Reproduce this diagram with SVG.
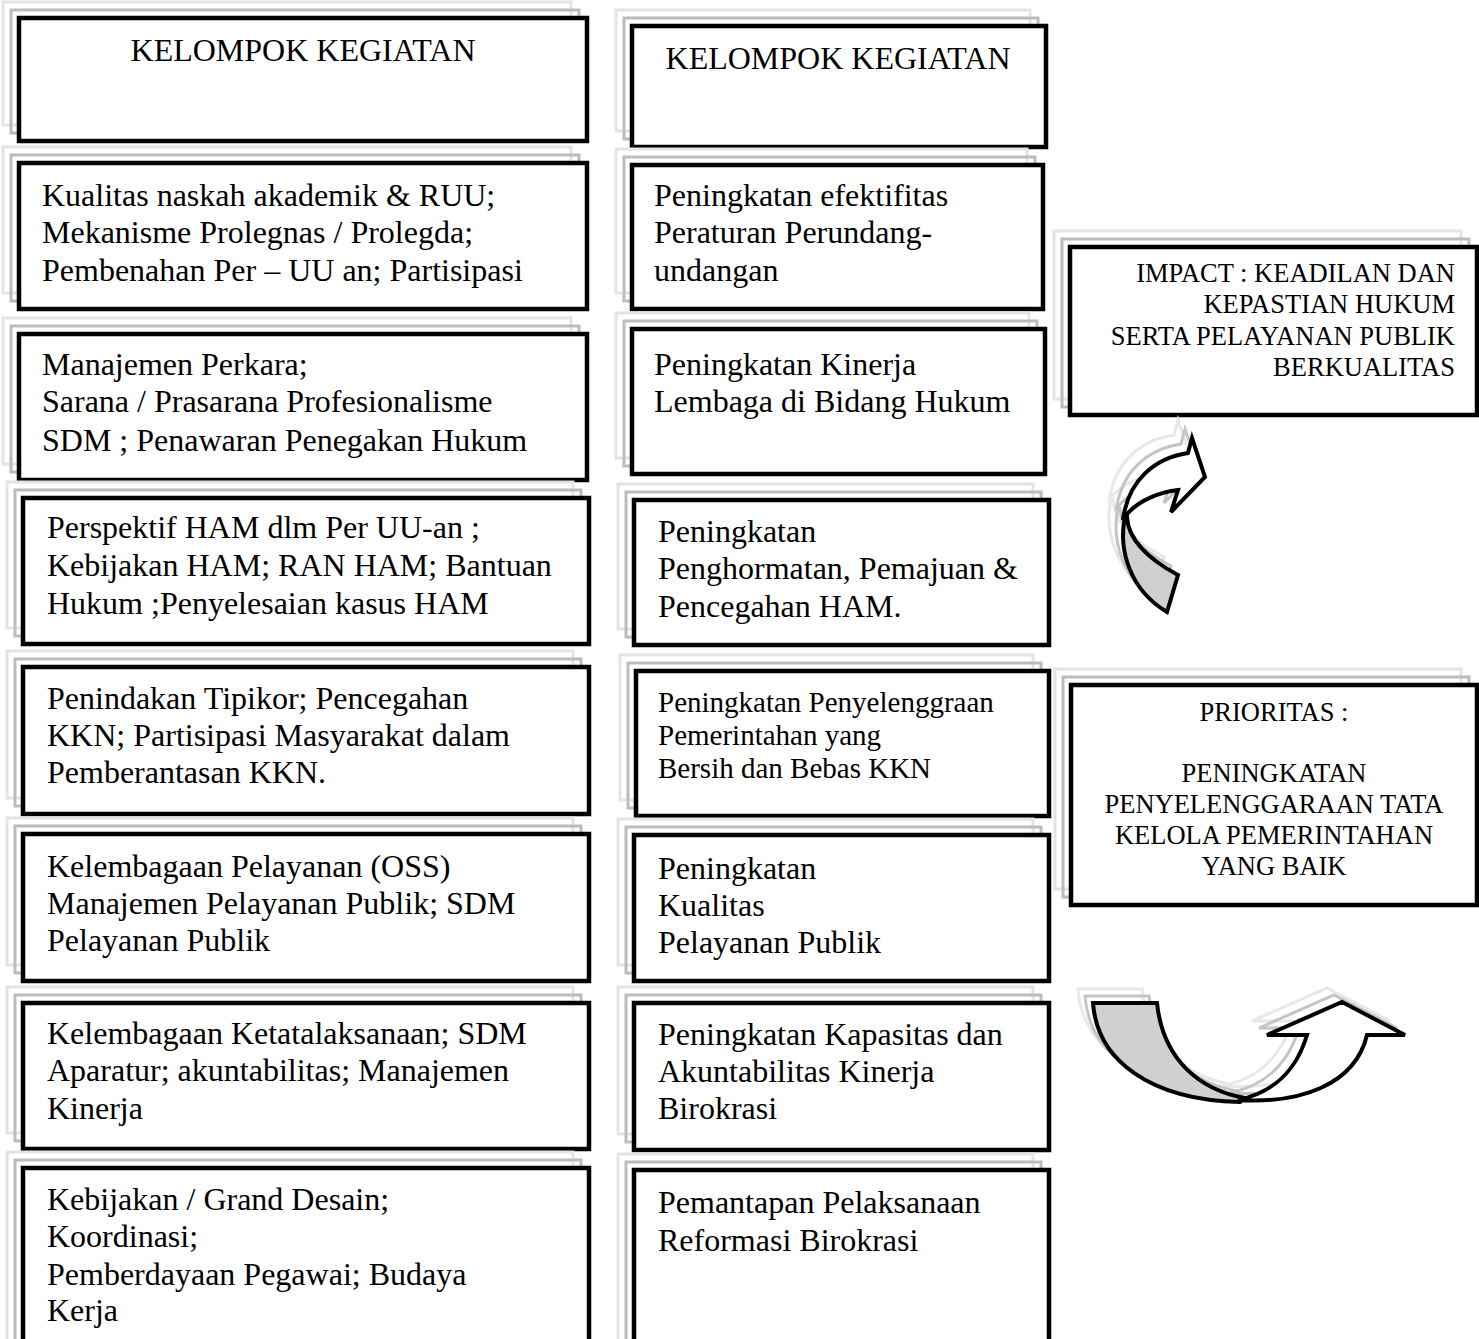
<svg xmlns="http://www.w3.org/2000/svg" width="1479" height="1339" viewBox="0 0 1479 1339">
<style>
.bx{fill:#fff;stroke:#000;stroke-width:4.5}
.s1{fill:none;stroke:#bcbcbc;stroke-width:3}
.s2{fill:none;stroke:#e4e4e4;stroke-width:3}
text{font-family:"Liberation Serif","Times New Roman",serif;fill:#000}
.t{font-size:32px}
.t2{font-size:29px}
.t3{font-size:26.5px}
.ar{stroke:#000;stroke-width:4;stroke-linejoin:miter}
.as1{fill:none;stroke:#c4c4c4;stroke-width:3}
.as2{fill:none;stroke:#e8e8e8;stroke-width:3}
</style>
<rect width="1479" height="1339" fill="#fff"/>

<g id="b1"><rect class="s2" x="3" y="2" width="568" height="123"/><rect class="s1" x="11" y="10" width="568" height="123"/><rect class="bx" x="19" y="18" width="568" height="123"/>
<text class="t" x="303" y="61" text-anchor="middle">KELOMPOK KEGIATAN</text></g>

<g id="b2"><rect class="s2" x="3" y="147" width="568" height="146"/><rect class="s1" x="11" y="155" width="568" height="146"/><rect class="bx" x="19" y="163" width="568" height="146"/>
<text class="t" x="42" y="206">Kualitas naskah akademik &amp; RUU;</text>
<text class="t" x="42" y="243">Mekanisme Prolegnas / Prolegda;</text>
<text class="t" x="42" y="281">Pembenahan Per – UU an; Partisipasi</text></g>

<g id="b3"><rect class="s2" x="3" y="318" width="568" height="146"/><rect class="s1" x="11" y="326" width="568" height="146"/><rect class="bx" x="19" y="334" width="568" height="146"/>
<text class="t" x="42" y="375">Manajemen Perkara;</text>
<text class="t" x="42" y="412">Sarana / Prasarana Profesionalisme</text>
<text class="t" x="42" y="451">SDM ; Penawaran Penegakan Hukum</text></g>

<g id="b4"><rect class="s2" x="7" y="482" width="566" height="146"/><rect class="s1" x="15" y="490" width="566" height="146"/><rect class="bx" x="23" y="498" width="566" height="146"/>
<text class="t" x="47" y="538">Perspektif HAM dlm Per UU-an ;</text>
<text class="t" x="47" y="576">Kebijakan HAM; RAN HAM; Bantuan</text>
<text class="t" x="47" y="614">Hukum ;Penyelesaian kasus HAM</text></g>

<g id="b5"><rect class="s2" x="7" y="651" width="566" height="147"/><rect class="s1" x="15" y="659" width="566" height="147"/><rect class="bx" x="23" y="667" width="566" height="147"/>
<text class="t" x="47" y="709">Penindakan Tipikor; Pencegahan</text>
<text class="t" x="47" y="746">KKN; Partisipasi Masyarakat dalam</text>
<text class="t" x="47" y="783">Pemberantasan KKN.</text></g>

<g id="b6"><rect class="s2" x="7" y="818" width="566" height="147"/><rect class="s1" x="15" y="826" width="566" height="147"/><rect class="bx" x="23" y="834" width="566" height="147"/>
<text class="t" x="47" y="877">Kelembagaan Pelayanan (OSS)</text>
<text class="t" x="47" y="914">Manajemen Pelayanan Publik; SDM</text>
<text class="t" x="47" y="951">Pelayanan Publik</text></g>

<g id="b7"><rect class="s2" x="7" y="987" width="566" height="146"/><rect class="s1" x="15" y="995" width="566" height="146"/><rect class="bx" x="23" y="1003" width="566" height="146"/>
<text class="t" x="47" y="1044">Kelembagaan Ketatalaksanaan; SDM</text>
<text class="t" x="47" y="1081">Aparatur; akuntabilitas; Manajemen</text>
<text class="t" x="47" y="1119">Kinerja</text></g>

<g id="b8"><rect class="s2" x="7" y="1152" width="566" height="200"/><rect class="s1" x="15" y="1160" width="566" height="200"/><rect class="bx" x="23" y="1168" width="566" height="200"/>
<text class="t" x="47" y="1210">Kebijakan / Grand Desain;</text>
<text class="t" x="47" y="1247">Koordinasi;</text>
<text class="t" x="47" y="1285">Pemberdayaan Pegawai; Budaya</text>
<text class="t" x="47" y="1321">Kerja</text></g>

<g id="r1"><rect class="s2" x="616" y="10" width="414" height="121"/><rect class="s1" x="624" y="18" width="414" height="121"/><rect class="bx" x="632" y="26" width="414" height="121"/>
<text class="t" x="838" y="69" text-anchor="middle">KELOMPOK KEGIATAN</text></g>

<g id="r2"><rect class="s2" x="616" y="149" width="411" height="144"/><rect class="s1" x="624" y="157" width="411" height="144"/><rect class="bx" x="632" y="165" width="411" height="144"/>
<text class="t" x="654" y="206">Peningkatan efektifitas</text>
<text class="t" x="654" y="243">Peraturan Perundang-</text>
<text class="t" x="654" y="281">undangan</text></g>

<g id="r3"><rect class="s2" x="616" y="313" width="413" height="145"/><rect class="s1" x="624" y="321" width="413" height="145"/><rect class="bx" x="632" y="329" width="413" height="145"/>
<text class="t" x="654" y="375">Peningkatan Kinerja</text>
<text class="t" x="654" y="412">Lembaga di Bidang Hukum</text></g>

<g id="r4"><rect class="s2" x="618" y="484" width="415" height="145"/><rect class="s1" x="626" y="492" width="415" height="145"/><rect class="bx" x="634" y="500" width="415" height="145"/>
<text class="t" x="658" y="542">Peningkatan</text>
<text class="t" x="658" y="579">Penghormatan, Pemajuan &amp;</text>
<text class="t" x="658" y="617">Pencegahan HAM.</text></g>

<g id="r5"><rect class="s2" x="620" y="655" width="413" height="145"/><rect class="s1" x="628" y="663" width="413" height="145"/><rect class="bx" x="636" y="671" width="413" height="145"/>
<text class="t2" x="658" y="712">Peningkatan Penyelenggraan</text>
<text class="t2" x="658" y="745">Pemerintahan yang</text>
<text class="t2" x="658" y="778">Bersih dan Bebas KKN</text></g>

<g id="r6"><rect class="s2" x="618" y="819" width="415" height="146"/><rect class="s1" x="626" y="827" width="415" height="146"/><rect class="bx" x="634" y="835" width="415" height="146"/>
<text class="t" x="658" y="879">Peningkatan</text>
<text class="t" x="658" y="916">Kualitas</text>
<text class="t" x="658" y="953">Pelayanan Publik</text></g>

<g id="r7"><rect class="s2" x="618" y="987" width="415" height="147"/><rect class="s1" x="626" y="995" width="415" height="147"/><rect class="bx" x="634" y="1003" width="415" height="147"/>
<text class="t" x="658" y="1045">Peningkatan Kapasitas dan</text>
<text class="t" x="658" y="1082">Akuntabilitas Kinerja</text>
<text class="t" x="658" y="1119">Birokrasi</text></g>

<g id="r8"><rect class="s2" x="618" y="1154" width="415" height="200"/><rect class="s1" x="626" y="1162" width="415" height="200"/><rect class="bx" x="634" y="1170" width="415" height="200"/>
<text class="t" x="658" y="1213">Pemantapan Pelaksanaan</text>
<text class="t" x="658" y="1251">Reformasi Birokrasi</text></g>

<g id="impact"><rect class="s2" x="1054" y="231" width="407" height="168"/><rect class="s1" x="1062" y="239" width="407" height="168"/><rect class="bx" x="1070" y="247" width="407" height="168"/>
<text class="t3" x="1455" y="282" text-anchor="end">IMPACT : KEADILAN DAN</text>
<text class="t3" x="1455" y="313" text-anchor="end">KEPASTIAN HUKUM</text>
<text class="t3" x="1455" y="345" text-anchor="end">SERTA PELAYANAN PUBLIK</text>
<text class="t3" x="1455" y="376" text-anchor="end">BERKUALITAS</text></g>

<g id="prioritas"><rect class="s2" x="1055" y="669" width="406" height="220"/><rect class="s1" x="1063" y="677" width="406" height="220"/><rect class="bx" x="1071" y="685" width="406" height="220"/>
<text class="t3" x="1274" y="721" text-anchor="middle">PRIORITAS :</text>
<text class="t3" x="1274" y="782" text-anchor="middle">PENINGKATAN</text>
<text class="t3" x="1274" y="813" text-anchor="middle">PENYELENGGARAAN TATA</text>
<text class="t3" x="1274" y="844" text-anchor="middle">KELOLA PEMERINTAHAN</text>
<text class="t3" x="1274" y="875" text-anchor="middle">YANG BAIK</text></g>

<g id="connectors">
<g id="arrow-up">
<g transform="translate(-14,-18)" class="as2">
<path d="M1125 517 C1118 550 1130 590 1167 612 L1178 575 C1150 560 1128 540 1127 517 Z"/>
<path d="M1127 513 C1140 500 1160 492 1178 490 L1171 512 L1205 477 L1192 438 L1188 453 C1155 458 1128 480 1123 520 Z"/>
</g>
<g transform="translate(-7,-9)" class="as1">
<path d="M1125 517 C1118 550 1130 590 1167 612 L1178 575 C1150 560 1128 540 1127 517 Z"/>
<path d="M1127 513 C1140 500 1160 492 1178 490 L1171 512 L1205 477 L1192 438 L1188 453 C1155 458 1128 480 1123 520 Z"/>
</g>
<path class="ar" fill="#d0d0d0" d="M1125 517 C1118 550 1130 590 1167 612 L1178 575 C1150 560 1128 540 1127 517 Z"/>
<path class="ar" fill="#fff" d="M1128 513 C1140 500 1160 492 1178 490 L1171 512 L1205 477 L1192 438 L1188 453 C1155 458 1128 480 1123 520 Z"/>
</g>
<g id="arrow-u">
<g transform="translate(-15,-14)" class="as2">
<path d="M1093 1003 L1157 1003 C1163 1060 1200 1090 1245 1098 L1240 1102 C1150 1100 1097 1060 1093 1003 Z"/>
<path d="M1238 1100 C1300 1104 1355 1085 1367 1035 L1405 1035 L1342 1002 L1267 1035 L1307 1035 C1295 1075 1270 1093 1238 1100 Z"/>
</g>
<g transform="translate(-8,-7)" class="as1">
<path d="M1093 1003 L1157 1003 C1163 1060 1200 1090 1245 1098 L1240 1102 C1150 1100 1097 1060 1093 1003 Z"/>
<path d="M1238 1100 C1300 1104 1355 1085 1367 1035 L1405 1035 L1342 1002 L1267 1035 L1307 1035 C1295 1075 1270 1093 1238 1100 Z"/>
</g>
<path class="ar" fill="#d0d0d0" d="M1093 1003 L1157 1003 C1163 1060 1200 1090 1245 1098 L1240 1102 C1150 1100 1097 1060 1093 1003 Z"/>
<path class="ar" fill="#fff" d="M1238 1100 C1300 1104 1355 1085 1367 1035 L1405 1035 L1342 1002 L1267 1035 L1307 1035 C1295 1075 1270 1093 1238 1100 Z"/>
</g>
</g>
</svg>
